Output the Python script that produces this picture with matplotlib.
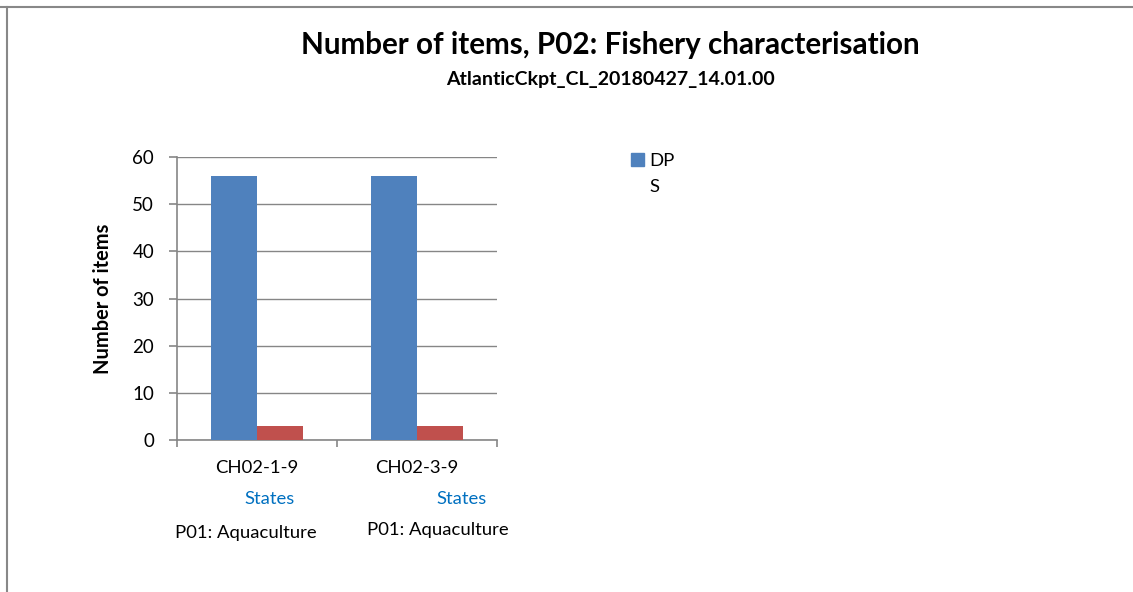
import matplotlib
matplotlib.use("Agg")
import matplotlib.pyplot as plt
import matplotlib.transforms as mtransforms
from matplotlib.patches import Patch
from matplotlib.lines import Line2D

categories = ["CH02-1-9", "CH02-3-9"]
level2 = ["States", "States"]
level3 = ["P01: Aquaculture", "P01: Aquaculture"]
series_names = ["DP", "S"]
dp_values = [56, 56]
s_values = [3, 3]
yticks = [0, 10, 20, 30, 40, 50, 60]

FONT = ["Lato", "DejaVu Sans"]
plt.rcParams["font.family"] = FONT

fig = plt.figure(figsize=(11.33, 5.92), dpi=100)
ax = fig.add_axes([177/1133, 1-440/592, 320/1133, 283/592])

grey = "#868686"
w = 0.2875
x = list(range(len(categories)))
ax.bar([i - w/2 for i in x], dp_values, width=w, color="#4F81BD", zorder=3)
ax.bar([i + w/2 for i in x], s_values, width=w, color="#C0504D", zorder=3)

ax.set_xlim(-0.5, len(categories) - 0.5)
ax.set_ylim(0, 60)
ax.set_yticks(yticks)
ax.yaxis.grid(True, color=grey, linewidth=1, zorder=0)
for s in ["top", "right"]:
    ax.spines[s].set_visible(False)
for s in ["left", "bottom"]:
    ax.spines[s].set_color(grey)
    ax.spines[s].set_linewidth(1.2)
ax.tick_params(axis="y", direction="out", length=6, width=1.2, color=grey, labelsize=13.5, pad=10.5)
ax.set_xticks([i - 0.5 for i in range(len(categories) + 1)])
ax.set_xticklabels([])
ax.tick_params(axis="x", direction="out", length=5, width=1.2, color=grey)

trans = mtransforms.blended_transform_factory(ax.transData, fig.transFigure)
off2 = [0.08, 0.28]
off3 = [-0.07, 0.13]
y3 = [533, 530]
fs = 13.3
for i in x:
    fig.text(i, 1 - 468/592, categories[i], transform=trans, ha="center", va="center", fontsize=fs)
    fig.text(i + off2[i], 1 - 499/592, level2[i], transform=trans, ha="center", va="center", fontsize=fs, color="#0070C0")
    fig.text(i + off3[i], 1 - y3[i]/592, level3[i], transform=trans, ha="center", va="center", fontsize=fs)

ax.set_ylabel("Number of items", fontsize=14.4, fontweight="bold")
ax.yaxis.set_label_coords((113 - 177) / 320, 0.5)

fig.text(610/1133, 1 - 45/592, "Number of items, P02: Fishery characterisation", ha="center", va="center", fontsize=21.3, fontweight="bold")
fig.text(610/1133, 1 - 79/592, "AtlanticCkpt_CL_20180427_14.01.00", ha="center", va="center", fontsize=14, fontweight="bold")

# legend (series name "DPS" wraps onto two lines)
fig.legend(handles=[Patch(color="#4F81BD")], labels=[series_names[0]], loc="upper left",
           bbox_to_anchor=(631/1133, 1 - 153/592), frameon=False, fontsize=fs,
           handlelength=0.72, handleheight=0.72, handletextpad=0.25, borderpad=0, borderaxespad=0)
fig.text(649/1133, 1 - 187/592, series_names[1], ha="left", va="center", fontsize=fs)

# outer frame (top and left edges)
fig.add_artist(Line2D([0, 1], [1 - 7/592, 1 - 7/592], transform=fig.transFigure, color="#888888", linewidth=1.5))
fig.add_artist(Line2D([7/1133, 7/1133], [0, 1 - 7/592], transform=fig.transFigure, color="#888888", linewidth=1.5))

fig.savefig("out.png", dpi=100)
